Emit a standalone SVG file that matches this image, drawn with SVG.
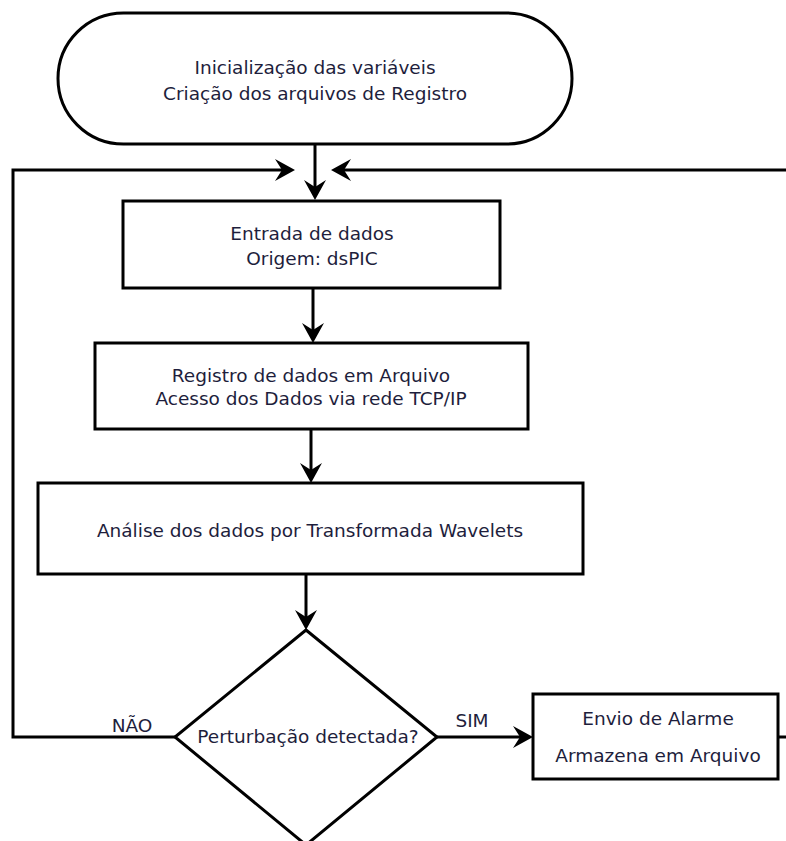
<svg xmlns="http://www.w3.org/2000/svg" width="786" height="841" viewBox="0 0 786 841">
  <defs>
    <style>
      .shape { fill: #ffffff; stroke: #000000; stroke-width: 3; }
      .edge { fill: none; stroke: #000000; stroke-width: 3; }
      .label { font-family: "DejaVu Sans", Verdana, sans-serif; font-size: 18.5px; fill: #1e1e3c; text-anchor: middle; }
    </style>
    <!-- filled, notched arrowhead; tip sits 10px beyond the line end -->
    <marker id="arrow" markerUnits="userSpaceOnUse" viewBox="-22 -12 24 24" markerWidth="24" markerHeight="24" refX="-10" refY="0" orient="auto">
      <path d="M-20,-11 L0,0 L-20,11 L-13,0 Z" fill="#000000"/>
    </marker>
  </defs>

  <rect width="786" height="841" fill="#ffffff"/>

  <!-- connectors -->
  <g id="connectors">
    <path class="edge" d="M315,144 L315,190" marker-end="url(#arrow)"/>
    <path class="edge" d="M313,288 L313,333" marker-end="url(#arrow)"/>
    <path class="edge" d="M311,429 L311,473" marker-end="url(#arrow)"/>
    <path class="edge" d="M306,574 L306,620" marker-end="url(#arrow)"/>
    <!-- NÃO: loop back to the input step -->
    <path class="edge" d="M175,737 L13,737 L13,170 L285,170" marker-end="url(#arrow)"/>
    <!-- SIM: to the alarm step -->
    <path class="edge" d="M437,737 L523,737" marker-end="url(#arrow)"/>
    <!-- after the alarm step, back to the input step -->
    <path class="edge" d="M778,737 L800,737 L800,170 L341,170" marker-end="url(#arrow)"/>
    <text class="label" x="132" y="732">NÃO</text>
    <text class="label" x="472" y="727">SIM</text>
  </g>

  <g id="inicio">
    <rect class="shape" x="58" y="13" width="514" height="131" rx="65.5" ry="65.5"/>
    <text class="label" x="315" y="74">Inicialização das variáveis</text>
    <text class="label" x="315" y="100">Criação dos arquivos de Registro</text>
  </g>

  <g id="entrada">
    <rect class="shape" x="123" y="201" width="377" height="87"/>
    <text class="label" x="312" y="240">Entrada de dados</text>
    <text class="label" x="312" y="265">Origem: dsPIC</text>
  </g>

  <g id="registro">
    <rect class="shape" x="95" y="343" width="433" height="86"/>
    <text class="label" x="311" y="382">Registro de dados em Arquivo</text>
    <text class="label" x="311" y="405">Acesso dos Dados via rede TCP/IP</text>
  </g>

  <g id="analise">
    <rect class="shape" x="38" y="483" width="545" height="91"/>
    <text class="label" x="310" y="537">Análise dos dados por Transformada Wavelets</text>
  </g>

  <g id="decisao">
    <polygon class="shape" points="306,630 437,737 306,845 175,737"/>
    <text class="label" x="308" y="743">Perturbação detectada?</text>
  </g>

  <g id="alarme">
    <rect class="shape" x="533" y="694" width="245" height="85"/>
    <text class="label" x="658" y="725">Envio de Alarme</text>
    <text class="label" x="658" y="762">Armazena em Arquivo</text>
  </g>
</svg>
